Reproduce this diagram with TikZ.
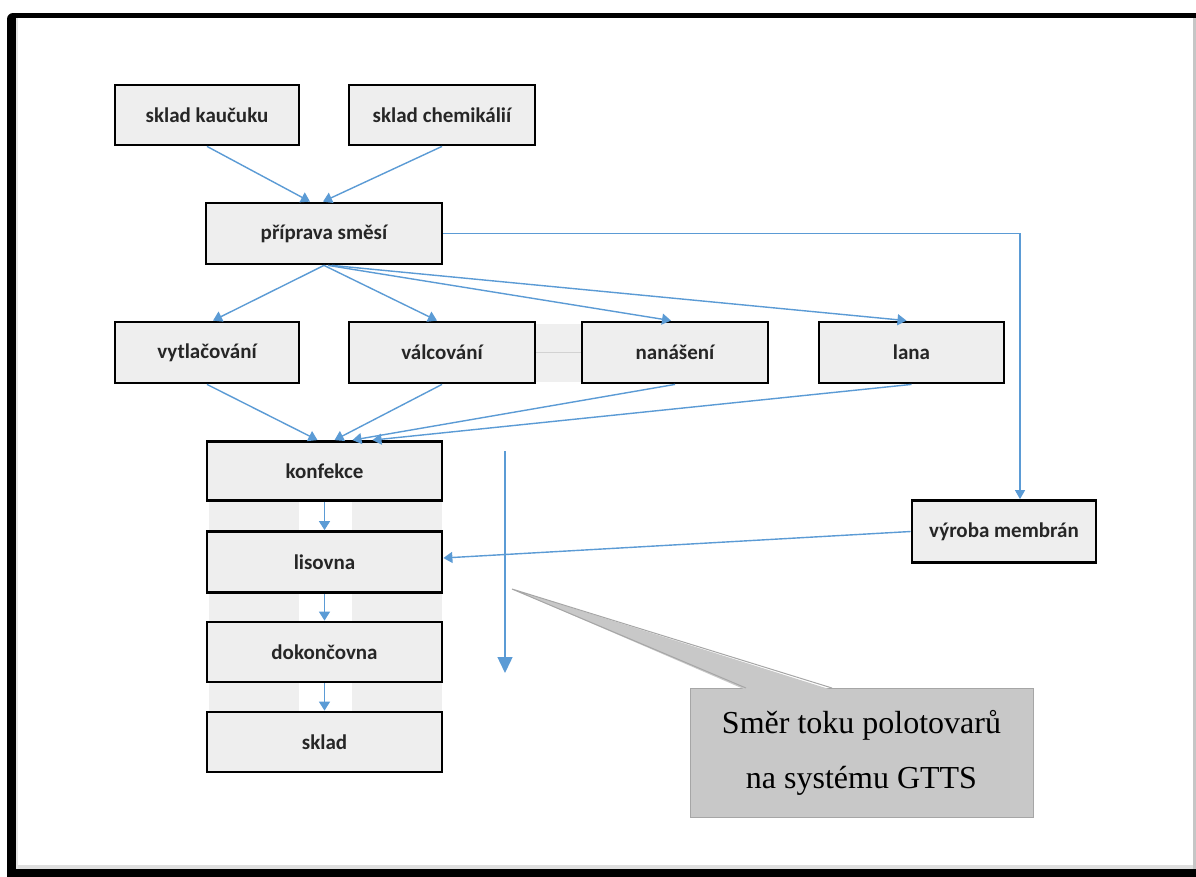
\documentclass[tikz,border=0pt]{standalone}
\usepackage{fontspec}
\setmainfont{Liberation Serif}
\newfontfamily\boxfont{Carlito}
\usetikzlibrary{arrows.meta,calc}
\definecolor{flowblue}{HTML}{5B9BD5}
\definecolor{boxfill}{HTML}{EEEEEE}
\definecolor{bandgray}{HTML}{EFEFEF}
\definecolor{callfill}{HTML}{C8C8C8}
\definecolor{calldraw}{HTML}{A6A6A6}
\definecolor{txtgray}{HTML}{262626}
\begin{document}
\begin{tikzpicture}[x=1pt,y=-1pt,
  procbox/.style={draw=black, line width=2.8pt, fill=boxfill, rectangle,
    inner sep=0pt, text=txtgray,
    font=\boxfont\bfseries\fontsize{21}{25}\selectfont},
  flow/.style={draw=flowblue, line width=1.4pt,
    -{Triangle[length=9pt,width=11pt]}},
  bigflow/.style={draw=flowblue, line width=1.4pt,
    -{Triangle[length=16pt,width=15pt]}},
  thinflow/.style={draw=flowblue, line width=1.1pt,
    -{Triangle[length=9pt,width=10pt]}}]
\useasboundingbox (0,0) rectangle (1196,876);
% frame
\fill[white] (0,0) rectangle (1196,876);
\fill[black, rounded corners=6pt] (7,13) rectangle (1210,890);
\fill[white] (16,18) rectangle (1193,869);
\fill[gray!45] (1193,18) rectangle (1196,869);
\fill[gray!25] (16,865) rectangle (1193,869);
\fill[gray!20] (16,18) rectangle (18,869);
% light bands
\fill[bandgray] (209,471) rectangle (299,742);
\fill[bandgray] (352,471) rectangle (442,742);
\fill[bandgray] (534,324) rectangle (582,382);
\draw[gray!35, line width=0.8pt] (534,352) -- (582,352);
% boxes
\node[procbox, minimum width=184pt, minimum height=60pt] (kauc) at (207,115) {sklad kaučuku};
\node[procbox, minimum width=186pt, minimum height=60pt] (chem) at (442,115) {sklad chemikálií};
\node[procbox, minimum width=236pt, minimum height=61pt] (pripr) at (324,233.5) {příprava směsí};
\node[procbox, minimum width=184pt, minimum height=61pt] (vytl) at (207,352.5) {vytlačování};
\node[procbox, minimum width=186pt, minimum height=61pt] (valc) at (442,352.5) {válcování};
\node[procbox, minimum width=186pt, minimum height=61pt] (nanas) at (675,352.5) {nanášení};
\node[procbox, minimum width=185pt, minimum height=61pt] (lana) at (911.5,352.5) {lana};
\node[procbox, minimum width=235pt, minimum height=59pt] (konf) at (324.5,471) {konfekce};
\node[procbox, minimum width=235pt, minimum height=61pt] (lis) at (324.5,562) {lisovna};
\node[procbox, minimum width=235pt, minimum height=60pt] (dok) at (324.5,652) {dokončovna};
\node[procbox, minimum width=235pt, minimum height=60pt] (skl) at (324.5,742) {sklad};
\node[procbox, minimum width=184pt, minimum height=62pt] (vyr) at (1004,531.5) {výroba membrán};
% connectors
\draw[flow] (kauc.south) -- ([xshift=-14pt]pripr.north);
\draw[flow] (chem.south) -- ([xshift=-1pt]pripr.north);
\draw[flow] (pripr.south) -- ([xshift=6pt]vytl.north);
\draw[flow] (pripr.south) -- ([xshift=-5pt]valc.north);
\draw[flow] ([xshift=4pt]pripr.south) -- ([xshift=-4pt]nanas.north);
\draw[flow] ([xshift=8pt]pripr.south) -- ([xshift=-5pt]lana.north);
\draw[thinflow] (pripr.east) -| ([xshift=16pt]vyr.north);
\draw[flow] (vytl.south) -- ([xshift=-7pt]konf.north);
\draw[flow] (valc.south) -- ([xshift=10pt]konf.north);
\draw[flow] (nanas.south) -- ([xshift=28pt]konf.north);
\draw[flow] (lana.south) -- ([xshift=48pt]konf.north);
\draw[flow] (konf.south) -- (lis.north);
\draw[flow] (lis.south) -- (dok.north);
\draw[flow] (dok.south) -- (skl.north);
\draw[flow] (vyr.west) -- ([yshift=4pt]lis.east);
% direction arrow
\coordinate (fa) at (505,451);
\coordinate (fb) at (505,673);
\draw[bigflow] (fa) -- (fb);
% callout
\node[draw=calldraw, fill=callfill, line width=1pt, minimum width=343pt,
  minimum height=129pt, inner sep=0pt, align=center,
  font=\fontsize{32}{55}\selectfont] (call) at (861.5,752.5)
  {Směr toku polotovarů\\na systému GTTS};
\coordinate (tip) at (512,589);
\fill[callfill] (746,690) -- (tip) -- (832,690) -- cycle;
\draw[calldraw, line width=1pt] (746,688) -- (tip) -- (832,688);
\end{tikzpicture}
\end{document}
